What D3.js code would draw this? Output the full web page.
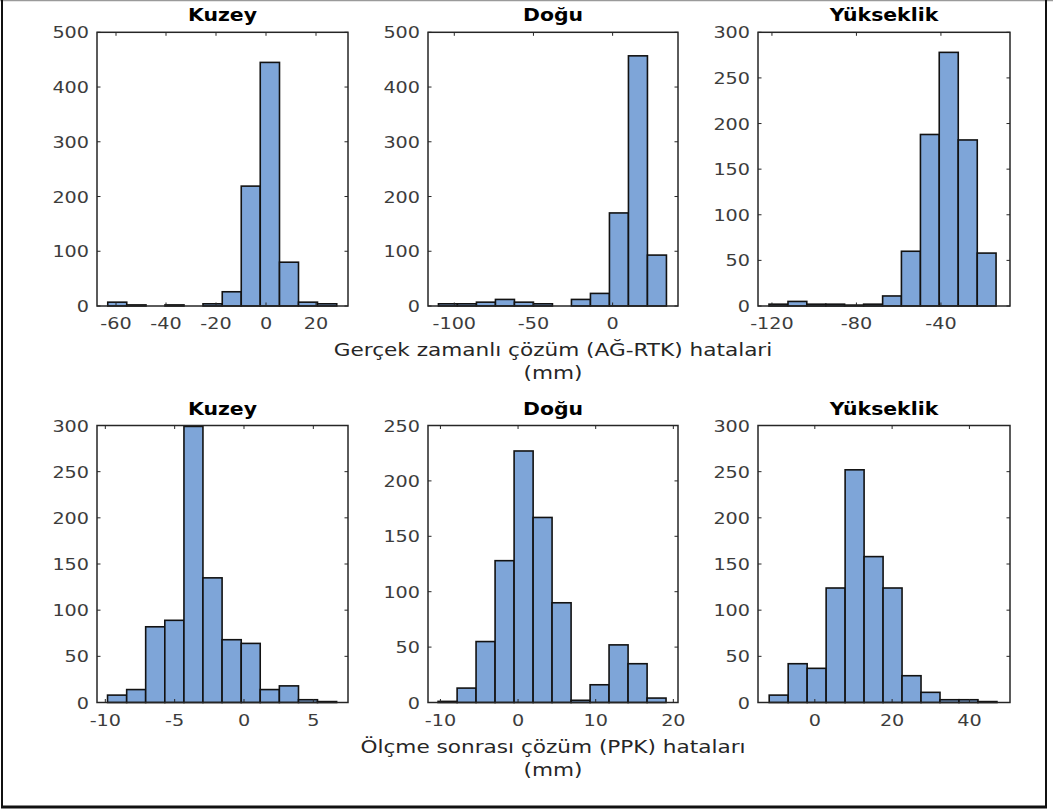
<!DOCTYPE html>
<html>
<head>
<meta charset="utf-8">
<script src="https://cdn.jsdelivr.net/npm/d3@7"></script>
<style>
  body { margin: 0; background: #fff; }
  svg { display: block; }
</style>
</head>
<body>
<svg id="fig" width="1053" height="812"></svg>
<script>
// Panel titles (same for both rows)
const titles = ["Kuzey", "Doğu", "Yükseklik"];

// Row captions
const rowLabels = [
  ["Gerçek zamanlı çözüm (AĞ-RTK) hatalari", "(mm)"],
  ["Ölçme sonrası çözüm (PPK) hataları", "(mm)"]
];

// --- Real-time (AĞ-RTK) errors, mm ---
const rtkKuzeyEdges  = [-63.3, -55.7, -48.0, -40.4, -32.8, -25.2, -17.5, -9.9, -2.3, 5.4, 13.0, 20.6, 28.3];
const rtkKuzeyCounts = [7, 2, 0, 2, 0, 4, 26, 219, 445, 80, 7, 4];

const rtkDoguEdges  = [-110, -98, -86, -74, -62, -50, -38, -26, -14, -2, 10, 22, 34];
const rtkDoguCounts = [4, 4, 7, 12, 7, 4, 0, 12, 23, 170, 457, 93];

const rtkYukEdges  = [-121.4, -112.4, -103.5, -94.5, -85.6, -76.6, -67.6, -58.7, -49.7, -40.8, -31.8, -22.8, -13.9];
const rtkYukCounts = [2, 5, 2, 2, 1, 2, 11, 60, 188, 278, 182, 58];

// --- Post-processed (PPK) errors, mm ---
const ppkKuzeyEdges  = [-9.84, -8.46, -7.09, -5.71, -4.33, -2.96, -1.58, -0.20, 1.17, 2.55, 3.93, 5.30, 6.68];
const ppkKuzeyCounts = [8, 14, 82, 89, 299, 135, 68, 64, 14, 18, 3, 1];

const ppkDoguEdges  = [-10.3, -7.85, -5.41, -2.96, -0.51, 1.94, 4.38, 6.83, 9.28, 11.72, 14.17, 16.62, 19.06];
const ppkDoguCounts = [1, 13, 55, 128, 227, 167, 90, 2, 16, 52, 35, 4];

const ppkYukEdges  = [-11.8, -6.89, -1.98, 2.93, 7.84, 12.75, 17.66, 22.57, 27.48, 32.39, 37.3, 42.21, 47.12];
const ppkYukCounts = [8, 42, 37, 124, 252, 158, 124, 29, 11, 3, 3, 1];

// Axis limits and tick values
const xLims = [
  [-67.6, 32.8], [-116.6, 41.3], [-126.6, -7.3],
  [-10.6, 7.5],  [-11.6, 20.6],  [-14.7, 50.5]
];
const yMaxes = [500, 500, 300, 300, 250, 300];
const xTickVals = [
  [-60, -40, -20, 0, 20], [-100, -50, 0], [-120, -80, -40],
  [-10, -5, 0, 5], [-10, 0, 10, 20], [0, 20, 40]
];
const yTickSteps = [100, 100, 50, 50, 50, 50];

const panels = [
  { edges: rtkKuzeyEdges, counts: rtkKuzeyCounts },
  { edges: rtkDoguEdges,  counts: rtkDoguCounts },
  { edges: rtkYukEdges,   counts: rtkYukCounts },
  { edges: ppkKuzeyEdges, counts: ppkKuzeyCounts },
  { edges: ppkDoguEdges,  counts: ppkDoguCounts },
  { edges: ppkYukEdges,   counts: ppkYukCounts }
];

// ---------- layout ----------
const colX = [[97, 348], [428, 678], [758, 1010]];
const rowY = [[32.3, 306], [425.5, 702.5]];
const SX = 1.2;             // horizontal text stretch of the figure
const FONT = "'DejaVu Sans', sans-serif";
const BAR_FILL = "#7ea5d8";
const INK = "#262626";
const TICK_INK = "#3c3c3c";

const svg = d3.select("#fig");
svg.append("rect").attr("width", 1053).attr("height", 812).attr("fill", "#fff");

function stext(g, x, y, str, anchor, size, weight, color) {
  return g.append("text")
    .attr("transform", `translate(${x},${y}) scale(${SX},1)`)
    .attr("text-anchor", anchor)
    .attr("font-family", FONT)
    .attr("font-size", size)
    .attr("font-weight", weight || "normal")
    .attr("fill", color || INK)
    .text(str);
}

panels.forEach((p, i) => {
  const row = Math.floor(i / 3), col = i % 3;
  const [x0, x1] = colX[col];
  const [y0, y1] = rowY[row];
  const x = d3.scaleLinear().domain(xLims[i]).range([x0, x1]);
  const y = d3.scaleLinear().domain([0, yMaxes[i]]).range([y1, y0]);
  const g = svg.append("g");

  // bars
  const bins = p.counts.map((c, k) => ({ a: p.edges[k], b: p.edges[k + 1], c }));
  g.selectAll("rect.bar").data(bins.filter(d => d.c > 0)).join("rect")
    .attr("class", "bar")
    .attr("x", d => x(d.a))
    .attr("width", d => x(d.b) - x(d.a))
    .attr("y", d => y(d.c))
    .attr("height", d => y(0) - y(d.c))
    .attr("fill", BAR_FILL)
    .attr("stroke", "#121212")
    .attr("stroke-width", 1.6);

  // box
  g.append("rect")
    .attr("x", x0).attr("y", y0)
    .attr("width", x1 - x0).attr("height", y1 - y0)
    .attr("fill", "none").attr("stroke", INK).attr("stroke-width", 1.5);

  // inward ticks and labels, y
  const yt = d3.range(0, yMaxes[i] + 1e-9, yTickSteps[i]);
  const tl = 3.5;
  yt.forEach(v => {
    const yy = y(v);
    g.append("line").attr("x1", x0).attr("x2", x0 + tl).attr("y1", yy).attr("y2", yy)
      .attr("stroke", INK).attr("stroke-width", 1);
    g.append("line").attr("x1", x1).attr("x2", x1 - tl).attr("y1", yy).attr("y2", yy)
      .attr("stroke", INK).attr("stroke-width", 1);
    stext(g, x0 - 8, yy + 6, d3.format("d")(v), "end", 16, "normal", TICK_INK);
  });

  // inward ticks and labels, x
  xTickVals[i].forEach(v => {
    const xx = x(v);
    g.append("line").attr("x1", xx).attr("x2", xx).attr("y1", y1).attr("y2", y1 - tl)
      .attr("stroke", INK).attr("stroke-width", 1);
    g.append("line").attr("x1", xx).attr("x2", xx).attr("y1", y0).attr("y2", y0 + tl)
      .attr("stroke", INK).attr("stroke-width", 1);
    stext(g, xx, y1 + 23, d3.format("d")(v).replace("−", "-"), "middle", 16, "normal", TICK_INK);
  });

  // title
  stext(g, (x0 + x1) / 2, y0 - 11, titles[col], "middle", 17, "bold", "#000");
});

// row captions under the middle column
rowLabels.forEach((lines, r) => {
  const cx = (colX[1][0] + colX[1][1]) / 2;
  const base = rowY[r][1] + 50;
  stext(svg, cx, base, lines[0], "middle", 18, "normal", INK);
  stext(svg, cx, base + 23, lines[1], "middle", 18, "normal", INK);
});

// page frame
svg.append("line").attr("x1", 0).attr("x2", 1053).attr("y1", 0.5).attr("y2", 0.5)
  .attr("stroke", "#9a9a9a").attr("stroke-width", 1.5);
svg.append("line").attr("x1", 2).attr("x2", 2).attr("y1", 0).attr("y2", 808)
  .attr("stroke", "#111").attr("stroke-width", 2);
svg.append("line").attr("x1", 1046).attr("x2", 1046).attr("y1", 0).attr("y2", 808)
  .attr("stroke", "#111").attr("stroke-width", 2);
svg.append("line").attr("x1", 1).attr("x2", 1047).attr("y1", 807).attr("y2", 807)
  .attr("stroke", "#111").attr("stroke-width", 3);
</script>
</body>
</html>
